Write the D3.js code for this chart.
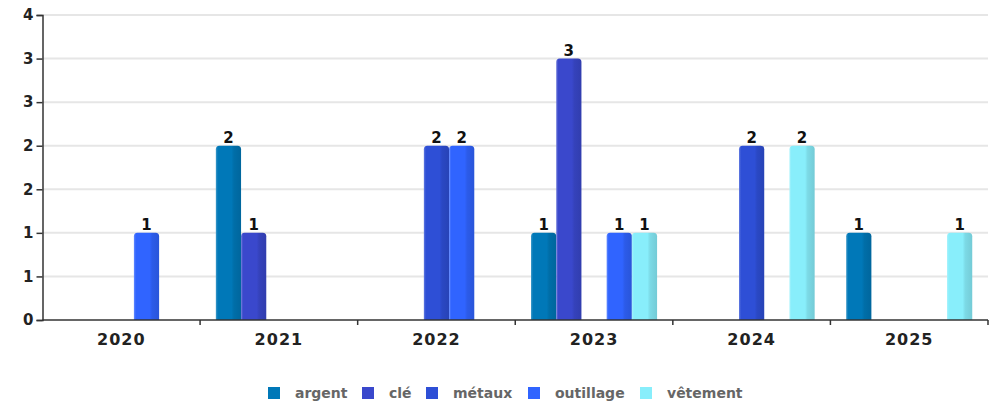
<!DOCTYPE html>
<html>
<head>
<meta charset="utf-8">
<script src="https://cdn.jsdelivr.net/npm/d3@7/dist/d3.min.js"></script>
<style>
  html, body { margin: 0; padding: 0; background: #fff; }
  svg { display: block; font-family: "DejaVu Sans", Verdana, sans-serif; }
</style>
</head>
<body>
<svg id="chart" width="998" height="404"></svg>
<script>
// Years on the category axis
const years = ["2020", "2021", "2022", "2023", "2024", "2025"];
// Series names (legend order)
const seriesNames = ["argent", "clé", "métaux", "outillage", "vêtement"];
const seriesColors = ["#0078b8", "#3a48cc", "#2e4fd6", "#3064ff", "#88eefb"];
// Counts per year, one array per series (null = no bar)
const argent    = [null, 2, null, 1, null, 1];
const cle       = [null, 1, null, 3, null, null];
const metaux    = [null, null, 2, null, 2, null];
const outillage = [1, null, 2, 1, null, null];
const vetement  = [null, null, null, 1, 2, 1];
const seriesValues = [argent, cle, metaux, outillage, vetement];
// Value axis ticks and their labels
const yTicks = [0, 0.5, 1, 1.5, 2, 2.5, 3, 3.5];
const yTickLabels = ["0", "1", "1", "2", "2", "3", "3", "4"];

const svg = d3.select("#chart");
const plotLeft = 42.5, plotRight = 988, plotTop = 15, plotBottom = 320;

const x0 = d3.scaleBand().domain(years).range([plotLeft, plotRight]).paddingInner(0).paddingOuter(0);
const x1 = d3.scaleBand().domain(seriesNames)
  .range([x0.bandwidth() * 0.1, x0.bandwidth() * 0.9]).padding(0);
const y = d3.scaleLinear().domain([0, 3.5]).range([plotBottom, plotTop]);

// Horizontal gradients give the bars their rounded, shaded look
const defs = svg.append("defs");
seriesNames.forEach((name, i) => {
  const c = d3.color(seriesColors[i]);
  const g = defs.append("linearGradient").attr("id", "grad" + i)
    .attr("x1", "0%").attr("x2", "100%").attr("y1", "0%").attr("y2", "0%");
  g.append("stop").attr("offset", "0%").attr("stop-color", d3.interpolateRgb(c, "#ffffff")(0.25));
  g.append("stop").attr("offset", "8%").attr("stop-color", c.formatHex());
  g.append("stop").attr("offset", "62%").attr("stop-color", c.formatHex());
  g.append("stop").attr("offset", "72%").attr("stop-color", c.darker(0.25).formatHex());
  g.append("stop").attr("offset", "100%").attr("stop-color", c.darker(0.45).formatHex());
});

// Grid lines
svg.append("g").selectAll("line").data(yTicks.slice(1)).join("line")
  .attr("x1", plotLeft).attr("x2", plotRight)
  .attr("y1", d => y(d)).attr("y2", d => y(d))
  .attr("stroke", "#e6e6e6").attr("stroke-width", 2);

// Bars
const bars = [];
seriesNames.forEach((name, si) => {
  seriesValues[si].forEach((v, yi) => {
    if (v != null) bars.push({ series: name, si, year: years[yi], value: v });
  });
});

function barPath(d) {
  const x = x0(d.year) + x1(d.series);
  const w = x1.bandwidth();
  const yt = y(d.value), yb = y(0);
  const r = 3.5;
  return `M${x},${yb}V${yt + r}Q${x},${yt} ${x + r},${yt}H${x + w - r}Q${x + w},${yt} ${x + w},${yt + r}V${yb}Z`;
}

svg.append("g").selectAll("path").data(bars).join("path")
  .attr("d", barPath)
  .attr("fill", d => `url(#grad${d.si})`);

// Value labels above bars
svg.append("g").selectAll("text").data(bars).join("text")
  .attr("x", d => x0(d.year) + x1(d.series) + x1.bandwidth() / 2)
  .attr("y", d => y(d.value) - 3)
  .attr("text-anchor", "middle")
  .attr("font-size", 15).attr("font-weight", "bold").attr("fill", "#111")
  .text(d => d.value);

// Y axis
const yAxis = d3.axisLeft(y).tickValues(yTicks).tickSize(6).tickPadding(3)
  .tickFormat((d, i) => yTickLabels[i]);
const gy = svg.append("g").attr("transform", `translate(${plotLeft},0)`).call(yAxis);
gy.select(".domain").attr("stroke", "#333").attr("stroke-width", 1.5);
gy.selectAll(".tick line").attr("stroke", "#333").attr("stroke-width", 1.5);
gy.selectAll(".tick text").attr("font-size", 15).attr("font-weight", "bold")
  .attr("fill", "#222").attr("font-family", "DejaVu Sans, sans-serif");

// X axis with ticks at the group boundaries
const gx = svg.append("g").attr("transform", `translate(0,${plotBottom})`);
gx.append("line").attr("x1", plotLeft).attr("x2", plotRight).attr("y1", 0).attr("y2", 0)
  .attr("stroke", "#333").attr("stroke-width", 1.5);
gx.selectAll("line.tk").data(years.slice(1).concat(["end"])).join("line").attr("class", "tk")
  .attr("x1", d => d === "end" ? plotRight : x0(d)).attr("x2", d => d === "end" ? plotRight : x0(d))
  .attr("y1", 0).attr("y2", 5).attr("stroke", "#333").attr("stroke-width", 1.5);
gx.selectAll("text").data(years).join("text")
  .attr("x", d => x0(d) + x0.bandwidth() / 2).attr("y", 25)
  .attr("text-anchor", "middle").attr("font-size", 16).attr("font-weight", "bold")
  .attr("letter-spacing", 1).attr("fill", "#222")
  .text(d => d);

// Legend
const legendX = [268, 362, 426, 528, 640];
const lg = svg.append("g");
seriesNames.forEach((name, i) => {
  lg.append("rect").attr("x", legendX[i]).attr("y", 387).attr("width", 12).attr("height", 12)
    .attr("fill", seriesColors[i]);
  lg.append("text").attr("x", legendX[i] + 27).attr("y", 398)
    .attr("font-size", 14).attr("font-weight", "bold").attr("fill", "#666")
    .text(name);
});
</script>
</body>
</html>
